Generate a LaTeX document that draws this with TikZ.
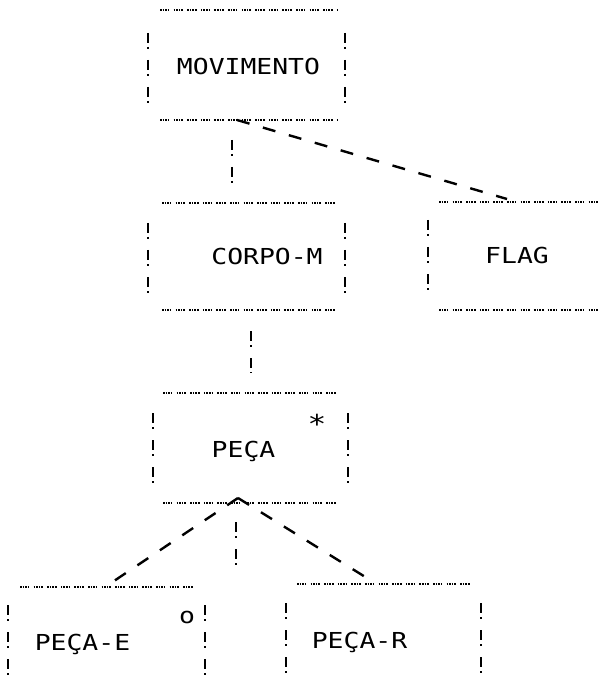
\documentclass[tikz,border=0pt]{standalone}
\usepackage{fontspec}
\newfontfamily\dotfont[FakeStretch=1.2]{DejaVu Sans Mono}
\usetikzlibrary{calc}
\tikzset{
 box/.style={draw=none, rectangle, inner sep=0pt, outer sep=0pt},
 hline/.style={line width=1.7pt, dash pattern=on 1.5pt off 1.1pt on 1.5pt off 1.1pt on 1.5pt off 1.1pt on 1.5pt off 4.3pt},
 bang/.style={line width=2.2pt, dash pattern=on 10pt off 4pt on 2pt off 11pt},
 link/.style={line width=2.4pt, dash pattern=on 13pt off 14pt},
 lbl/.style={inner sep=0pt, anchor=base, font=\dotfont\fontsize{22}{22}\selectfont},
}
\begin{document}
\begin{tikzpicture}[x=1pt,y=-1pt]
\useasboundingbox (0,0) rectangle (601,692);
% boxes
\node[box, minimum width=197pt, minimum height=110pt] (mov) at (246.5,65) {};
\node[box, minimum width=197pt, minimum height=107pt] (corpo) at (246.5,256.5) {};
\node[box, minimum width=173pt, minimum height=108pt] (flag) at (514.5,256) {};
\node[box, minimum width=195pt, minimum height=110pt] (peca) at (250.5,448) {};
\node[box, minimum width=197pt, minimum height=105pt] (pe) at (106.5,639.5) {};
\node[box, minimum width=195pt, minimum height=108pt] (pr) at (383.5,638) {};
% labels
\node[lbl] (tmov) at (248.5,75) {MOVIMENTO};
\node[lbl] (tcorpo) at (267,265) {CORPO-M};
\node[lbl] (tflag) at (517,263) {FLAG};
\node[lbl] (tpeca) at (243.5,457) {PEÇA};
\node[lbl] (tstar) at (317,433) {\fontsize{26}{26}\selectfont *};
\node[lbl] (tpe) at (82.5,650) {PEÇA-E};
\node[lbl] (to) at (187,623) {o};
\node[lbl] (tpr) at (359.5,648) {PEÇA-R};
% MOVIMENTO frame
\draw[hline] ($(mov.north west)+(12,0)$) -- ($(mov.north east)+(-8,0)$);
\draw[hline] ($(mov.south west)+(12,0)$) -- ($(mov.south east)+(-8,0)$);
\draw[bang] ($(mov.north west)+(0,23)$) -- ++(0,70);
\draw[bang] ($(mov.north east)+(0,23)$) -- ++(0,70);
% CORPO-M frame
\draw[hline] ($(corpo.north west)+(14,0)$) -- ($(corpo.north east)+(-8,0)$);
\draw[hline] ($(corpo.south west)+(14,0)$) -- ($(corpo.south east)+(-8,0)$);
\draw[bang] ($(corpo.north west)+(0,20)$) -- ++(0,70);
\draw[bang] ($(corpo.north east)+(0,20)$) -- ++(0,70);
% FLAG frame
\draw[hline] ($(flag.north west)+(11,0)$) -- (flag.north east);
\draw[hline] ($(flag.south west)+(11,0)$) -- (flag.south east);
\draw[bang] ($(flag.north west)+(0,18)$) -- ++(0,70);
% PECA frame
\draw[hline] ($(peca.north west)+(10,0)$) -- ($(peca.north east)+(-10,0)$);
\draw[hline] ($(peca.south west)+(10,0)$) -- ($(peca.south east)+(-10,0)$);
\draw[bang] ($(peca.north west)+(0,20)$) -- ++(0,70);
\draw[bang] ($(peca.north east)+(0,20)$) -- ++(0,70);
% PECA-E frame
\draw[hline] ($(pe.north west)+(12,0)$) -- ($(pe.north east)+(-10,0)$);
\draw[bang] ($(pe.north west)+(0,18)$) -- ++(0,70);
\draw[bang] ($(pe.north east)+(0,18)$) -- ++(0,70);
% PECA-R frame
\draw[hline] ($(pr.north west)+(11,0)$) -- ($(pr.north east)+(-9,0)$);
\draw[bang] ($(pr.north west)+(0,19)$) -- ++(0,70);
\draw[bang] ($(pr.north east)+(0,19)$) -- ++(0,70);
% connectors
\draw[bang] ($(mov.south)+(-14.5,20)$) -- ($(corpo.north)+(-14.5,-20)$);
\draw[bang] ($(corpo.south)+(4.5,21)$) -- ($(peca.north)+(0.5,-20)$);
\coordinate (pend) at ($(peca.south)+(-14.5,62)$);
\draw[bang] ($(peca.south)+(-14.5,19)$) -- (pend);
\draw[link] ($(mov.south)+(-9.5,0)$) -- ($(flag.north west)+(79,-3)$);
\draw[link] ($(peca.south)+(-12.5,-5)$) -- ($(pe.north west)+(97,0)$);
\draw[link] ($(peca.south)+(-12.5,-5)$) -- ($(pr.north west)+(89,-1)$);
\end{tikzpicture}
\end{document}
